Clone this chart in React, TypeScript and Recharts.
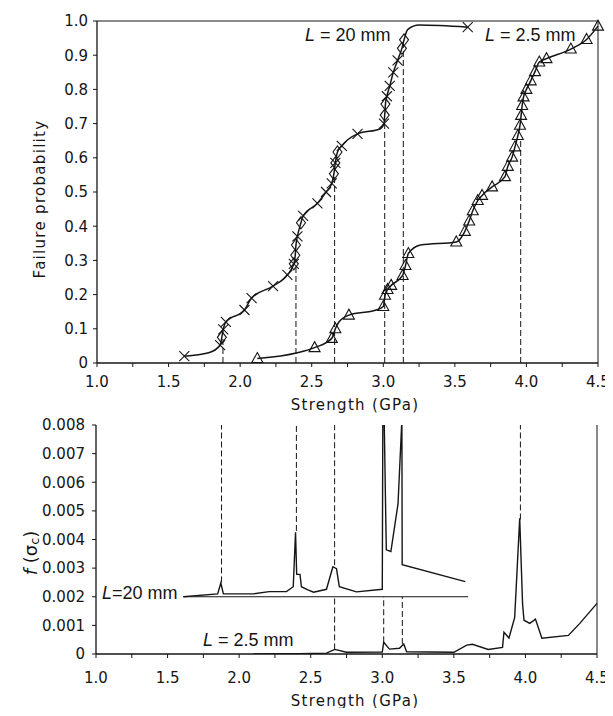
import React from 'react';
import { ComposedChart, Line, XAxis, YAxis, ReferenceLine } from 'recharts';

// ---------- axis ticks ----------
const strengthTicks = [1, 1.25, 1.5, 1.75, 2, 2.25, 2.5, 2.75, 3, 3.25, 3.5, 3.75, 4, 4.25, 4.5];
const probTicks = [0, 0.1, 0.2, 0.3, 0.4, 0.5, 0.6, 0.7, 0.8, 0.9, 1.0];
const densityTicks = [0, 0.001, 0.002, 0.003, 0.004, 0.005, 0.006, 0.007, 0.008];

// ---------- top panel: failure probability, L = 20 mm ----------
const l20Strength = [1.61, 1.78, 1.86, 1.872, 1.882, 1.9, 2.03, 2.08, 2.23, 2.33, 2.375, 2.385, 2.39, 2.4, 2.425, 2.44, 2.54, 2.6, 2.64, 2.655, 2.665, 2.68, 2.71, 2.82, 2.98, 3.005, 3.01, 3.015, 3.025, 3.045, 3.07, 3.1, 3.13, 3.145, 3.17, 3.25, 3.59];
const l20Prob = [0.02, 0.03, 0.052, 0.075, 0.098, 0.12, 0.155, 0.19, 0.225, 0.258, 0.29, 0.315, 0.345, 0.37, 0.41, 0.43, 0.467, 0.5, 0.525, 0.553, 0.585, 0.617, 0.635, 0.67, 0.685, 0.7, 0.725, 0.757, 0.78, 0.81, 0.85, 0.885, 0.92, 0.945, 0.975, 0.988, 0.982];
const l20Marker = ['x', '', 'x', 'd', 'x', 'x', 'x', 'x', 'x', 'x', 'b', 'd', 'd', 'x', 'd', 'x', 'x', 'x', 'x', 'd', 'b', 'd', 'x', 'x', '', 'x', 'd', 'd', 'x', 'x', 'x', 'x', 'd', 'd', '', '', 'x'];

// ---------- top panel: failure probability, L = 2.5 mm ----------
const l25Strength = [2.12, 2.4, 2.52, 2.64, 2.665, 2.69, 2.76, 2.95, 3.0, 3.012, 3.03, 3.055, 3.135, 3.155, 3.175, 3.26, 3.51, 3.57, 3.6, 3.625, 3.66, 3.69, 3.76, 3.85, 3.87, 3.9, 3.92, 3.94, 3.955, 3.963, 3.97, 3.98, 4.0, 4.03, 4.06, 4.09, 4.14, 4.31, 4.42, 4.5];
const l25Prob = [0.013, 0.03, 0.045, 0.072, 0.1, 0.12, 0.14, 0.155, 0.165, 0.198, 0.215, 0.227, 0.256, 0.285, 0.32, 0.345, 0.354, 0.385, 0.415, 0.445, 0.475, 0.49, 0.515, 0.545, 0.575, 0.602, 0.632, 0.665, 0.695, 0.724, 0.753, 0.778, 0.8, 0.825, 0.852, 0.88, 0.89, 0.918, 0.946, 0.985];
const l25Marker = ['t', '', 't', 't', 't', '', 't', '', 't', 't', 't', 't', 't', 't', 't', '', 't', 't', 't', 't', 't', 't', 't', 't', 't', 't', 't', 't', 't', 't', 't', 't', 't', 't', 't', 't', 't', 't', 't', 't'];

// dashed drop lines in the top panel
const topDashX = [1.88, 2.39, 2.66, 3.01, 3.14, 3.96];
const topDashTop = [0.07, 0.29, 0.55, 0.7, 0.93, 0.65];

// ---------- bottom panel: f(sigma_c) ----------
const d20Strength = [1.61, 1.85, 1.872, 1.89, 2.1, 2.21, 2.33, 2.378, 2.394, 2.402, 2.425, 2.435, 2.48, 2.52, 2.61, 2.655, 2.68, 2.7, 2.82, 3.0, 3.004, 3.012, 3.028, 3.06, 3.11, 3.137, 3.139, 3.58];
const d20Value = [0.002, 0.0021, 0.00248, 0.0021, 0.0021, 0.00218, 0.00218, 0.00235, 0.00425, 0.00278, 0.00278, 0.00235, 0.00224, 0.00216, 0.00226, 0.00305, 0.00298, 0.00235, 0.00217, 0.00226, 0.0086, 0.0086, 0.00364, 0.00358, 0.00525, 0.0082, 0.00312, 0.00253];

const d25Strength = [2.1, 2.42, 2.61, 2.668, 2.75, 3.0, 3.01, 3.05, 3.12, 3.15, 3.17, 3.5, 3.59, 3.63, 3.74, 3.84, 3.85, 3.885, 3.925, 3.96, 3.98, 3.99, 4.03, 4.07, 4.115, 4.3, 4.38, 4.5];
const d25Value = [0, 0.00001, 0.00003, 0.00016, 0.00006, 0.00007, 0.00041, 0.00017, 0.0002, 0.00035, 0.00008, 0.00006, 0.00031, 0.00034, 0.00016, 0.00023, 0.00076, 0.00056, 0.00128, 0.00474, 0.00175, 0.00118, 0.00107, 0.00122, 0.00055, 0.00065, 0.00107, 0.00177];

const baseline20 = [1.61, 3.6];
const baseline20Value = 0.002;

const botDashX = [1.877, 2.4, 2.667, 2.667, 3.01, 3.14, 3.965];
const botDashLo = [0.0025, 0.0043, 0.0031, 0.00016, 0.00041, 0.00035, 0.0047];
const botDashHi = [0.008, 0.008, 0.008, 0.002, 0.002, 0.002, 0.008];

// ---------- build rows ----------
const l20Data = l20Strength.map((x, i) => ({ x, y: l20Prob[i], m: l20Marker[i] }));
const l25Data = l25Strength.map((x, i) => ({ x, y: l25Prob[i], m: l25Marker[i] }));
const d20Data = d20Strength.map((x, i) => ({ x, y: d20Value[i] }));
const d25Data = d25Strength.map((x, i) => ({ x, y: d25Value[i] }));

const FONT = '"DejaVu Sans", "Liberation Sans", sans-serif';
const LFONT = '"Liberation Sans", "DejaVu Sans", sans-serif';
const INK = '#151515';

const fmtStrength = (v: number) => (Math.abs(v * 2 - Math.round(v * 2)) < 1e-6 ? v.toFixed(1) : '');
const fmtProb = (v: number) => (v === 0 ? '0' : v.toFixed(1));
const fmtDensity = (v: number) => (v === 0 ? '0' : v.toFixed(3));

const tickStyle = { fill: INK, fontSize: 15, fontFamily: FONT };

function renderMarker(props: any) {
  const { cx, cy, payload, index } = props;
  const k = `mk-${index}-${cx}`;
  if (cx == null || cy == null || !payload) return <g key={k} />;
  const m = payload.m;
  const s = 5;
  const cross = (
    <g>
      <line x1={cx - s} y1={cy - s} x2={cx + s} y2={cy + s} stroke={INK} strokeWidth={1.1} />
      <line x1={cx - s} y1={cy + s} x2={cx + s} y2={cy - s} stroke={INK} strokeWidth={1.1} />
    </g>
  );
  const diamond = (
    <polygon points={`${cx},${cy - 6} ${cx + 4.5},${cy} ${cx},${cy + 6} ${cx - 4.5},${cy}`} fill="none" stroke={INK} strokeWidth={1.1} />
  );
  if (m === 'x') return <g key={k}>{cross}</g>;
  if (m === 'd') return <g key={k}>{diamond}</g>;
  if (m === 'b') return <g key={k}>{cross}{diamond}</g>;
  if (m === 't')
    return (
      <g key={k}>
        <polygon points={`${cx},${cy - 6} ${cx + 5.5},${cy + 4} ${cx - 5.5},${cy + 4}`} fill="none" stroke={INK} strokeWidth={1.1} />
      </g>
    );
  return <g key={k} />;
}

function TopChart() {
  return (
    <ComposedChart width={605} height={410} margin={{ top: 13, right: 15, left: 0, bottom: 0 }}>
      <XAxis
        type="number"
        dataKey="x"
        domain={[1, 4.5]}
        ticks={strengthTicks}
        interval={0}
        tickFormatter={fmtStrength}
        tickSize={4}
        tickMargin={9}
        height={55}
        axisLine={{ stroke: INK, strokeWidth: 1.3 }}
        tickLine={{ stroke: INK }}
        tick={tickStyle}
      />
      <YAxis
        type="number"
        domain={[0, 1]}
        ticks={probTicks}
        interval={0}
        tickFormatter={fmtProb}
        width={89}
        tickSize={4}
        tickMargin={5}
        axisLine={{ stroke: INK, strokeWidth: 1.3 }}
        tickLine={{ stroke: INK }}
        tick={tickStyle}
      />
      <ReferenceLine y={1} stroke={INK} strokeWidth={1} />
      <ReferenceLine x={4.5} stroke={INK} strokeWidth={1} />
      {topDashX.map((x, i) => (
        <ReferenceLine
          key={`td${i}`}
          segment={[{ x, y: 0 }, { x, y: topDashTop[i] }]}
          stroke={INK}
          strokeWidth={1}
          strokeDasharray="6 3"
        />
      ))}
      <Line data={l20Data} dataKey="y" type="monotone" stroke={INK} strokeWidth={1.5} dot={renderMarker} activeDot={false} isAnimationActive={false} />
      <Line data={l25Data} dataKey="y" type="monotone" stroke={INK} strokeWidth={1.5} dot={renderMarker} activeDot={false} isAnimationActive={false} />
      <text x={32} y={191} transform="rotate(-90 32 191)" textAnchor="middle" dominantBaseline="central" fontFamily={FONT} fontSize={15} letterSpacing={1.3} fill={INK}>
        Failure probability
      </text>
      <text x={347} y={402} textAnchor="middle" fontFamily={FONT} fontSize={15} letterSpacing={1.3} fill={INK}>
        Strength (GPa)
      </text>
      <text x={297} y={33} fontFamily={LFONT} fontSize={18} fill={INK}>
        <tspan fontStyle="italic">L</tspan> = 20 mm
      </text>
      <text x={477} y={33} fontFamily={LFONT} fontSize={18} fill={INK}>
        <tspan fontStyle="italic">L</tspan> = 2.5 mm
      </text>
    </ComposedChart>
  );
}

function BottomChart() {
  return (
    <ComposedChart width={605} height={316} margin={{ top: 25, right: 16, left: 0, bottom: 0 }}>
      <XAxis
        type="number"
        dataKey="x"
        domain={[1, 4.5]}
        ticks={strengthTicks}
        interval={0}
        tickFormatter={fmtStrength}
        tickSize={4}
        tickMargin={14}
        height={62}
        axisLine={{ stroke: INK, strokeWidth: 1.3 }}
        tickLine={{ stroke: INK }}
        tick={tickStyle}
      />
      <YAxis
        type="number"
        domain={[0, 0.008]}
        allowDataOverflow
        ticks={densityTicks}
        interval={0}
        tickFormatter={fmtDensity}
        width={88}
        tickSize={4}
        tickMargin={7}
        axisLine={{ stroke: INK, strokeWidth: 1.3 }}
        tickLine={{ stroke: INK }}
        tick={tickStyle}
      />
      <ReferenceLine x={4.5} stroke={INK} strokeWidth={1} />
      <ReferenceLine
        segment={[{ x: baseline20[0], y: baseline20Value }, { x: baseline20[1], y: baseline20Value }]}
        stroke={INK}
        strokeWidth={1.2}
      />
      {botDashX.map((x, i) => (
        <ReferenceLine
          key={`bd${i}`}
          segment={[{ x, y: botDashLo[i] }, { x, y: botDashHi[i] }]}
          stroke={INK}
          strokeWidth={1}
          strokeDasharray="6 3"
        />
      ))}
      <Line data={d20Data} dataKey="y" type="linear" stroke={INK} strokeWidth={1.4} dot={false} activeDot={false} isAnimationActive={false} />
      <Line data={d25Data} dataKey="y" type="linear" stroke={INK} strokeWidth={1.4} dot={false} activeDot={false} isAnimationActive={false} />
      <text x={22} y={153} transform="rotate(-90 22 153)" textAnchor="middle" dominantBaseline="central" fontFamily={FONT} fontSize={18} fill={INK}>
        <tspan fontStyle="italic">f</tspan> (σ<tspan fontSize={13} dy={4}>c</tspan><tspan dy={-4}>)</tspan>
      </text>
      <text x={347} y={306} textAnchor="middle" fontFamily={FONT} fontSize={15} letterSpacing={1.3} fill={INK}>
        Strength (GPa)
      </text>
      <text x={94} y={199} fontFamily={LFONT} fontSize={18} fill={INK}>
        <tspan fontStyle="italic">L</tspan>=20 mm
      </text>
      <text x={195} y={246} fontFamily={LFONT} fontSize={18} fill={INK}>
        <tspan fontStyle="italic">L</tspan> = 2.5 mm
      </text>
    </ComposedChart>
  );
}

export default function App() {
  return (
    <div style={{ position: 'relative', width: 605, height: 708, marginBottom: -8 }}>
      <div style={{ position: 'absolute', left: 0, top: 0 }}>
        <TopChart />
      </div>
      <div style={{ position: 'absolute', left: 0, top: 392 }}>
        <BottomChart />
      </div>
    </div>
  );
}
